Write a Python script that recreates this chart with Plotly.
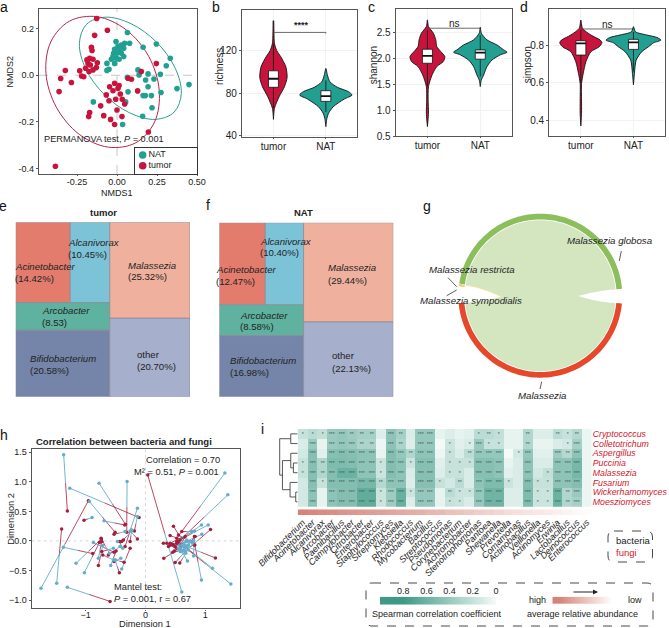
import numpy as np
import plotly.graph_objects as go

W, H = 669, 628
FONT = "Liberation Sans"
INK = "#222222"
FRAME = "#555555"
RED = "#C8143C"
TEAL = "#21A092"
H_BLUE = "#62AECB"
H_RED = "#A31F3D"

# ---------- panel a ----------
a_nat_x = [.065,-.006,.048,.079,.027,.006,-.015,.042,.017,0,-.021,.027,.042,-.025,-.004,-.035,.013,-.063,-.015,-.05,-.063,.163,.246,.333,.308,.271,.194,.131,.138,.179,.231,.065,.069,.194,.163,.177,.215,.275,.375,.45,.219,.16,.054,.035,-.148]
a_nat_y = [.183,.144,.137,.137,.13,.123,.111,.116,.111,.094,.094,.094,.08,.08,.073,.069,.069,.051,.051,.026,.021,.12,.134,.073,.041,.004,.006,.023,.001,-.02,-.016,-.009,-.071,-.049,-.087,-.087,-.087,-.074,-.057,-.04,-.139,-.176,-.114,-.211,-.114]
a_tum_x = [-.127,-.06,-.140,-.160,-.156,-.171,-.188,-.150,-.123,-.181,-.196,-.167,-.129,-.150,-.233,-.323,-.352,-.285,-.221,-.208,-.362,-.175,.246,.152,.090,-.015,-.046,.013,-.025,.021,-.067,-.050,-.008,.033,.129,.048,-.102,0,-.171,-.177,-.083,-.040,.031,-.015,.196,-.385,.069,.006]
a_tum_y = [.243,.193,.171,.12,.106,.073,.066,.069,.054,.051,.03,.044,.033,.023,.019,.02,-.014,-.031,-.003,-.006,-.07,.016,.05,.016,-.017,-.034,-.049,-.044,-.066,-.08,-.084,-.109,-.103,-.103,-.067,-.123,-.131,-.149,-.16,-.177,-.173,-.189,-.177,-.211,-.243,-.39,-.013,-.056]
a_nat_ell_x = [.402,.362,.247,.0875,-.072,-.191,-.235,-.195,-.08,.079,.239,.357,.402]
a_nat_ell_y = [-.077,.033,.142,.221,.249,.218,.137,.027,-.082,-.161,-.189,-.158,-.077]
a_tum_ell_x = [.118,.235,.264,.199,.057,-.125,-.297,-.414,-.444,-.379,-.236,-.054,.118]
a_tum_ell_y = [-.289,-.2,-.065,.08,.195,.251,.232,.143,.008,-.137,-.253,-.308,-.289]
a_legend = ["NAT", "tumor"]
a_x_ticks = [-.25, 0, .25, .5]
a_x_text = ["-0.25", "0.00", "0.25", "0.50"]
a_y_ticks = [.2, 0, -.2, -.4]
a_y_text = ["0.2", "0.0", "-0.2", "-0.4"]

# ---------- panels b, c, d: violin outlines (value, half width) and boxes ----------
groups = ["tumor", "NAT"]
b_tum_v = [148.4,136.4,126.9,120,114.3,104.9,94.8,86,76.5,65.5,55.1]
b_tum_w = [.006,.01,.019,.064,.14,.236,.261,.21,.108,.019,0]
b_nat_v = [103.3,97,90.7,85.4,81.3,78.1,74.3,67,60.8,56,48.2]
b_nat_w = [0,.03,.076,.22,.43,.5,.35,.14,.05,.02,0]
b_tum_box = [65.5,85.4,93.5,101,126.9]
b_nat_box = [62,72.1,77,82.2,92]
c_tum_v = [2.745,2.616,2.487,2.358,2.229,2.133,2.036,1.939,1.843,1.682,1.456,1.198,.941,.683]
c_tum_w = [0,.02,.114,.158,.177,.253,.33,.30,.177,.089,.02,.013,.02,0]
c_nat_v = [2.603,2.487,2.358,2.26,2.165,2.12,2.07,1.97,1.843,1.68,1.585,1.456]
c_nat_w = [0,.02,.127,.316,.443,.506,.38,.222,.127,.063,.02,0]
c_tum_box = [1.45,1.907,2.05,2.178,2.55]
c_nat_box = [1.65,1.985,2.113,2.165,2.45]
d_tum_v = [.932,.888,.853,.826,.812,.791,.765,.712,.65,.597,.509,.439,.372]
d_tum_w = [0,.032,.191,.369,.401,.35,.191,.096,.045,.013,.013,.013,0]
d_nat_v = [.897,.87,.853,.84,.826,.812,.791,.765,.72,.65,.589]
d_nat_w = [0,.038,.255,.446,.522,.382,.287,.159,.051,.019,0]
d_tum_box = [.6,.747,.809,.823,.88]
d_nat_box = [.66,.777,.814,.83,.87]

# ---------- panels e, f ----------
genera = ["Acinetobacter", "Alcanivorax", "Arcobacter", "Bifidobacterium", "Malassezia", "other"]
tree_colors = ["#E47C6E", "#7DC3D8", "#5EB29F", "#7485A9", "#EFB19D", "#A6AFCB"]
e_values = [14.42, 10.45, 8.53, 20.58, 25.32, 20.70]
f_values = [12.47, 10.40, 8.58, 16.98, 29.44, 22.13]

# ---------- panel g: sector angles in degrees ----------
g_names = ["Malassezia globosa", "Malassezia restricta", "Malassezia sympodialis", "Malassezia"]
g_start = [4.8, 171.7, 172.7, 185.3]
g_end = [171.5, 172.6, 173.2, 354.5]
g_colors = ["#8CBE5C", "#F0D860", "#E8A050", "#E5482A"]

# ---------- panel h: paired points ----------
h_blue_x = [-1.366,-1.265,-.775,-.307,-.134,-1.745,-.936,-1.483,-.892,-1.371,-1.304,-1.159,-1.02,-.87,-.691,-.786,-.713,-.507,-.58,-.502,-.396,-.535,-.424,-.602,-.535,-.34,-.229,-.134,-.256,-.468,-.412,-.379,-.229,
            .608,1.327,1.377,1.048,.936,.819,.942,.663,.663,.608,.58,.635,.663,.675,.691,1.427,1.12,.936,.702,.803,.608,.635,.691,.747,.719,.786,.803,.691,.775,.58,.663,.719,.552]
h_blue_y = [1.458,.893,.977,1.006,.554,-.802,.667,-.718,.395,-.107,-.785,-.379,-.537,-.028,.339,-.294,-.079,-.322,-.418,-.322,-.475,-.124,-.096,-.209,-.322,.158,.169,.412,.169,-.011,-.294,-.124,.186,
            -.864,1.147,.78,.271,.271,.169,.113,-.181,-.068,-.068,-.124,-.153,-.181,-.209,-.096,-.729,-.463,-.661,-.339,-.254,-.181,-.096,-.011,-.011,-.068,-.04,0,.017,.158,-.181,-.124,-.153,-.124]
h_red_x = [-1.304,-.106,-.334,-.312,-.34,-.953,-.507,-1.40,-1.026,-.881,-.591,-.736,-.769,-.524,-.345,-.73,-.786,-.435,-.49,-.357,-.256,-.73,-.619,-.741,-.713,-.524,-.396,-.184,-.134,-.368,-.524,-.435,-.256,
           .039,.524,.58,.524,.468,.412,.496,1.087,.468,.3,.307,.457,.496,.574,1.17,.608,.552,.825,.58,.819,.83,.357,.412,.451,.524,.552,.385,.485,.608,.412,.819,.524,.663]
h_red_y = [.508,.395,.282,.147,-.096,.678,.147,.203,.35,-.215,-1.023,.034,-.028,-.192,.27,-.011,-.418,-.537,-.169,-.362,-.124,-.181,-.237,.045,-.237,.113,-.011,.169,.034,.017,-.35,-.011,-.011,
           1.113,.045,.017,-.011,-.068,-.04,-.096,.192,.249,-.04,-.294,-.192,-.367,-.373,-.288,-.068,-.011,-.068,-.124,.073,.073,-.04,.09,-.056,-.124,.102,-.096,-.169,.158,-.068,-.068,-.04,.073]

# ---------- panel i ----------
bacteria = ["Bifidobacterium","Acinetobacter","Alcanivorax","Arcobacter","Paenibacillus","Campylobacter","Citrobacter","Enterobacter","Staphylococcus","Streptomyces","Klebsiella","Rhodococcus","Mycobacterium","Bacillus","Streptococcus","Pseudomonas","Corynebacterium","Achromobacter","Stenotrophomonas","Pantoea","Shewanella","Prevotella","Comamonas","Actinobacillus","Veillonella","Actinomyces","Erwinia","Lactobacillus","Deinococcus","Enterococcus"]
fungi = ["Cryptococcus","Colletotrichum","Aspergillus","Puccinia","Malassezia","Fusarium","Wickerhamomyces","Moesziomyces"]
heat_crypto = [.2,.25,.22,.4,.42,.38,.35,.35,.1,.45,.35,.12,.42,.42,.06,.1,.06,.08,.25,.25,.22,.06,.06,.3,.1,.1,.25,.2,.28,.04]
heat_collet = [.12,.4,.05,.4,.42,.4,.32,.32,.03,.45,.32,.1,.42,.42,0,.18,.08,.12,.4,.2,.2,.06,.06,.3,.05,.05,.12,.15,.35,.04]
heat_asperg = [.15,.48,.08,.48,.5,.48,.45,.45,.05,.5,.42,.3,.45,.45,.03,.2,.12,.25,.42,.42,.42,0,.15,.42,.08,.08,.38,.28,.45,.04]
heat_puccin = [.2,.48,.3,.52,.52,.5,.45,.45,.18,.5,.45,.18,.48,.48,.08,.2,.2,.2,.48,.48,.45,.05,.12,.45,.12,.12,.45,.45,.55,.04]
heat_malass = [.2,.48,.3,.5,.6,.6,.45,.45,.18,.5,.45,.12,.48,.48,.1,.2,.2,.12,.48,.48,.45,.08,.12,.45,.15,.22,.45,.45,.55,.04]
heat_fusari = [.15,.48,.2,.5,.5,.5,.55,.55,.28,.45,.45,.1,.48,.48,.2,.15,.25,.12,.45,.52,.52,.18,.12,.5,.2,.2,.45,.45,.5,.04]
heat_wicker = [.15,.45,.06,.45,.5,.5,.65,.65,.18,.38,.62,.18,.42,.42,.06,.25,.18,.18,.42,.58,.58,.1,.1,.52,.18,.18,.6,.3,.4,.04]
heat_moeszi = [.15,.45,.06,.45,.5,.5,.65,.65,.18,.38,.62,.1,.42,.42,.06,.2,.18,.12,.42,.58,.58,.1,.1,.52,.18,.18,.6,.3,.35,.04]
stars_crypto = "* * * *** *** ** ** ** . *** ** . *** *** . . . . * ** * . . ** . . ** * ** ."
stars_collet = ". *** . *** *** *** ** ** . *** ** . *** *** . * . * *** * * . . ** . . . * *** ."
stars_asperg = ". *** . *** *** *** *** *** . *** *** ** *** *** . * . ** *** *** *** . * *** . . *** ** *** ."
stars_puccin = "* *** ** *** *** *** *** *** * *** *** * *** *** . * * * *** *** *** . . *** . . *** *** *** ."
stars_malass = "* *** ** *** *** *** *** *** * *** *** . *** *** . * * . *** *** *** . . *** . * *** *** *** ."
stars_fusari = ". *** * *** *** *** *** *** ** *** *** . *** *** * . ** . *** *** *** * . *** * * *** *** *** ."
stars_wicker = ". *** . *** *** *** *** *** * *** *** * *** *** . ** * * *** *** *** . . *** * * *** ** *** ."
stars_moeszi = ". *** . *** *** *** *** *** * *** *** . *** *** . * * . *** *** *** . . *** * * *** ** *** ."
abundance = [1,.97,.94,.91,.88,.85,.82,.79,.76,.73,.7,.67,.64,.6,.56,.52,.48,.44,.4,.36,.32,.28,.25,.22,.19,.16,.13,.1,.06,.03]
legend_corr = [.8,.6,.4,.2,0]
legend_abund = [1,.75,.5,.25,0]
legend_corr_pos = [1,.8,.6,.4,.2,0]
# dendrogram branch heights, in column widths
dend_heights = [.71,.44,.71,.2,.78,1.56,1.84]

HEAT_SCALE = [[0, "#F4FAF8"], [1, "#3F9A85"]]
ABUND_SCALE = [[0, "#FFFFFF"], [1, "#D8837A"]]


def px(x):
    return x / W


def py(y):
    return 1 - y / H


fig = go.Figure()
annots = []
shapes = []
axis_n = [0]


def add_axes(x0, x1, y0, y1, xr, yr, xopt=None, yopt=None, frame=True):
    axis_n[0] += 1
    n = axis_n[0]
    sfx = "" if n == 1 else str(n)
    base = dict(showline=frame, mirror=frame, linecolor=FRAME, linewidth=1.2, showgrid=False, automargin=False,
                zeroline=False, ticks="", showticklabels=False, color=INK, fixedrange=True,
                tickfont=dict(family=FONT, size=9, color=INK))
    xa = dict(base, domain=[px(x0), px(x1)], range=xr, anchor="y" + sfx)
    ya = dict(base, domain=[py(y1), py(y0)], range=yr, anchor="x" + sfx)
    xa.update(xopt or {})
    ya.update(yopt or {})
    fig.update_layout(**{"xaxis" + sfx: xa, "yaxis" + sfx: ya})
    return "x" + sfx, "y" + sfx


def text(x, y, s, size=9.5, anchor="left", color=INK, angle=0, bold=False):
    if bold:
        s = "<b>" + s + "</b>"
    annots.append(dict(x=px(x), y=py(y), xref="paper", yref="paper", text=s, showarrow=False,
                       xanchor=anchor, yanchor="middle", textangle=angle, borderpad=0,
                       font=dict(family=FONT, size=size, color=color)))


def pline(x0, y0, x1, y1, color="#333333", width=0.8, dash=None):
    shapes.append(dict(type="line", xref="paper", yref="paper", x0=px(x0), y0=py(y0), x1=px(x1), y1=py(y1),
                       line=dict(color=color, width=width, dash=dash)))


def round_box(x0, y0, x1, y1, r):
    X0, X1, Y0, Y1 = px(x0), px(x1), py(y0), py(y1)
    rx, ry = r / W, r / H
    path = (f"M {X0+rx} {Y0} L {X1-rx} {Y0} Q {X1} {Y0} {X1} {Y0-ry} L {X1} {Y1+ry} Q {X1} {Y1} {X1-rx} {Y1} "
            f"L {X0+rx} {Y1} Q {X0} {Y1} {X0} {Y1+ry} L {X0} {Y0-ry} Q {X0} {Y0} {X0+rx} {Y0} Z")
    shapes.append(dict(type="path", xref="paper", yref="paper", path=path,
                       line=dict(color="#333333", width=0.9, dash="dash")))


# ---------- a ----------
xa, ya = add_axes(39, 197, 9, 174, [-.4875, .5], [-.423, .284],
                  dict(showticklabels=True, tickvals=a_x_ticks, ticktext=a_x_text, ticks="outside", ticklen=1, tickcolor=FRAME, ticklabelstandoff=-2),
                  dict(showticklabels=True, tickvals=a_y_ticks, ticktext=a_y_text, ticks="outside", ticklen=2, tickcolor=FRAME))
for r in [dict(x0=0, x1=0, y0=0, y1=1, xref=xa, yref=ya + " domain"), dict(x0=0, x1=1, y0=0, y1=0, xref=xa + " domain", yref=ya)]:
    shapes.append(dict(type="line", layer="below", line=dict(color="#C8C8C8", width=1, dash="dash"), **r))
fig.add_trace(go.Scatter(x=a_nat_ell_x, y=a_nat_ell_y, xaxis=xa, yaxis=ya, mode="lines",
                         line=dict(color="#2E9E90", width=1, shape="spline")))
fig.add_trace(go.Scatter(x=a_tum_ell_x, y=a_tum_ell_y, xaxis=xa, yaxis=ya, mode="lines",
                         line=dict(color="#B5264A", width=1, shape="spline")))
fig.add_trace(go.Scatter(x=a_nat_x, y=a_nat_y, xaxis=xa, yaxis=ya, mode="markers", marker=dict(color=TEAL, size=5.6)))
fig.add_trace(go.Scatter(x=a_tum_x, y=a_tum_y, xaxis=xa, yaxis=ya, mode="markers", marker=dict(color=RED, size=5.6)))
# legend inset
xl, yl = add_axes(134.7, 197, 148.3, 174, [-8, 54.3], [-.776, 1.626],
                  dict(linecolor="#333333"),
                  dict(type="linear", linecolor="#333333"))
fig.add_trace(go.Scatter(x=[0], y=[1], xaxis=xl, yaxis=yl, mode="markers+text", text=[a_legend[0]], textposition="middle right",
                         marker=dict(color=TEAL, size=7.5), textfont=dict(family=FONT, size=9, color=INK)))
fig.add_trace(go.Scatter(x=[0], y=[0], xaxis=xl, yaxis=yl, mode="markers+text", text=[a_legend[1]], textposition="middle right",
                         marker=dict(color=RED, size=7.5), textfont=dict(family=FONT, size=9, color=INK)))
text(117, 192.5, "NMDS1", 9, "center")
text(9.5, 72, "NMDS2", 9, "center", angle=-90)
text(43.3, 139.3, "PERMANOVA test, <i>P</i> = 0.001", 9.2)


# ---------- b, c, d ----------
def violin_panel(box, yr, yticks, ytext, series, title, title_pos):
    x0, x1, y0, y1 = box
    xa, ya = add_axes(x0, x1, y0, y1, [-.6, 1.6], yr,
                      dict(showticklabels=True, tickvals=[0, 1], ticktext=groups, ticks="outside", ticklen=1, tickcolor=FRAME,
                           ticklabelstandoff=-1,
                           tickfont=dict(family=FONT, size=10, color=INK), showgrid=True, gridcolor="#F2F2F2", gridwidth=1),
                      dict(showticklabels=True, tickvals=yticks, ticktext=ytext, ticks="outside", ticklen=2, tickcolor=FRAME,
                           tickfont=dict(family=FONT, size=10, color=INK), showgrid=True, gridcolor="#F2F2F2", gridwidth=1))
    for c, (vals, wids, bx, col) in enumerate(series):
        vx = [c + w for w in wids] + [c - w for w in wids[::-1]]
        vy = list(vals) + list(vals[::-1])
        fig.add_trace(go.Scatter(x=vx, y=vy, xaxis=xa, yaxis=ya, mode="lines", fill="toself", fillcolor=col,
                                 line=dict(color="#111111", width=0.9, shape="spline", smoothing=0.7)))
        fig.add_trace(go.Scatter(x=[c, c], y=[bx[0], bx[4]], xaxis=xa, yaxis=ya, mode="lines",
                                 line=dict(color="#111111", width=0.8)))
        fig.add_trace(go.Scatter(x=[c - .095, c + .095, c + .095, c - .095, c - .095], y=[bx[1], bx[1], bx[3], bx[3], bx[1]],
                                 xaxis=xa, yaxis=ya, mode="lines", fill="toself", fillcolor="white",
                                 line=dict(color="#111111", width=0.8)))
        fig.add_trace(go.Scatter(x=[c - .095, c + .095], y=[bx[2], bx[2]], xaxis=xa, yaxis=ya, mode="lines",
                                 line=dict(color="#111111", width=1.8)))
    text(title_pos[0], title_pos[1], title, 10, "center", angle=-90)
    return xa, ya


xb, yb = violin_panel((242, 357.3, 10, 136.7), [38.7, 158.5], [40, 80, 120], ["40", "80", "120"],
                      [(b_tum_v, b_tum_w, b_tum_box, RED), (b_nat_v, b_nat_w, b_nat_box, TEAL)], "richness", (219.3, 66.7))
fig.add_trace(go.Scatter(x=[0, 0, 1, 1], y=[136.2, 137.3, 137.3, 136.2], xaxis=xb, yaxis=yb, mode="lines", line=dict(color="#444444", width=0.8)))
xc, yc = violin_panel((395.7, 512, 9.3, 136), [.5, 2.95], [.5, 1, 1.5, 2, 2.5], ["0.5", "1.0", "1.5", "2.0", "2.5"],
                      [(c_tum_v, c_tum_w, c_tum_box, RED), (c_nat_v, c_nat_w, c_nat_box, TEAL)], "shannon", (373.3, 65))
fig.add_trace(go.Scatter(x=[0, 1], y=[2.584, 2.584], xaxis=xc, yaxis=yc, mode="lines", line=dict(color="#444444", width=0.8)))
xd, yd = violin_panel((549.3, 665, 9.3, 136), [.319, .989], [.4, .6, .8], ["0.4", "0.6", "0.8"],
                      [(d_tum_v, d_tum_w, d_tum_box, RED), (d_nat_v, d_nat_w, d_nat_box, TEAL)], "simpson", (527.3, 65))
fig.add_trace(go.Scatter(x=[0, 1], y=[.885, .885], xaxis=xd, yaxis=yd, mode="lines", line=dict(color="#444444", width=0.8)))
text(301.7, 25.5, "<b>****</b>", 9, "center")
text(454.3, 24, "ns", 10, "center")
text(607.7, 24.7, "ns", 10, "center")


# ---------- e, f ----------
def tree_panel(x0, x1, y0, y1, values):
    xa, ya = add_axes(x0, x1, y0, y1, [0, 100], [0, 100], frame=False)
    ac, al, ar, bi, ma, ot = values
    left = ac + al + ar + bi
    cells_x = [0, ac / (ac + al) * left, 0, 0, left, left]
    cells_w = [ac / (ac + al) * left, al / (ac + al) * left, left, left, ma + ot, ma + ot]
    h_top = (ac + al) / left * 100
    h_arc = ar / left * 100
    h_bif = bi / left * 100
    h_mal = ma / (ma + ot) * 100
    h_oth = ot / (ma + ot) * 100
    cells_b = [100 - h_top, 100 - h_top, h_bif, 0, h_oth, 0]
    cells_h = [h_top, h_top, h_arc, h_bif, h_mal, h_oth]
    fig.add_trace(go.Bar(x=[a + w / 2 for a, w in zip(cells_x, cells_w)], y=cells_h, base=cells_b, width=cells_w,
                         xaxis=xa, yaxis=ya, marker=dict(color=tree_colors, line=dict(color="#8C8C98", width=0.8))))


tree_panel(15.7, 190, 222.3, 396.7, e_values)
tree_panel(219.3, 393.3, 222.7, 396.7, f_values)
LS = 9.6
text(104, 212.7, "tumor", 9.5, "center", bold=True)
text(303, 212.5, "NAT", 9.5, "center", bold=True)
for x, y1, y2, name, val in [
    (14, 266, 278, genera[0], "(14.42%)"), (67.3, 242.7, 254, genera[1], "(10.45%)"),
    (127.3, 265.3, 276.7, genera[4], "(25.32%)"), (40.7, 310.3, 322, genera[2], "(8.53)"),
    (29, 358, 370, genera[3], "(20.58%)"), (135.7, 354, 366, genera[5], "(20.70%)"),
    (214.7, 269, 281, genera[0], "(12.47%)"), (259.3, 241.7, 253, genera[1], "(10.40%)"),
    (327.3, 267.7, 280, genera[4], "(29.44%)"), (238.7, 315, 326.7, genera[2], "(8.58%)"),
    (229.3, 360, 372, genera[3], "(16.98%)"), (331, 355.7, 368, genera[5], "(22.13%)")]:
    text(x, y1, name if name == "other" else f"<i>{name}</i>", LS)
    text(x, y2, val, LS)

# ---------- g ----------
xg, yg = add_axes(450, 630, 205, 385, [-90.3, 89.7], [-89.3, 90.7], frame=False)


def arc(a0, a1, r, n=90):
    t = np.radians(np.linspace(a0, a1, n))
    return r * np.cos(t), r * np.sin(t)


def bez(p0, c, p1, n=30):
    t = np.linspace(0, 1, n)
    return ((1 - t) ** 2 * p0[0] + 2 * (1 - t) * t * c[0] + t ** 2 * p1[0],
            (1 - t) ** 2 * p0[1] + 2 * (1 - t) * t * c[1] + t ** 2 * p1[1])


R_OUT, R_IN, R_CH = 82, 76.3, 75.5
gx, gy = arc(g_start[0], g_end[0], R_CH)
p_g_l = (gx[-1], gy[-1])
p_g_r = (gx[0], gy[0])
rx_, ry_ = arc(g_start[3], g_end[3], R_CH)
p_r_l = (rx_[0], ry_[0])
p_r_r = (rx_[-1], ry_[-1])
tip_l, tip_r = (-38.7, -1), (38, -.3)
s1 = bez(p_g_l, (-57, 7.3), tip_l)
s2 = bez(tip_l, (-57, -6), p_r_l)
s3 = bez(p_r_r, (58, -6.7), tip_r)
s4 = bez(tip_r, (58, 5.3), p_g_r)
fig.add_trace(go.Scatter(x=np.concatenate([gx, s1[0], s2[0], rx_, s3[0], s4[0]]),
                         y=np.concatenate([gy, s1[1], s2[1], ry_, s3[1], s4[1]]),
                         xaxis=xg, yaxis=yg, mode="none", fill="toself", fillcolor="#D3E6C0"))
for a0, a1, col in zip(g_start, g_end, g_colors):
    ox, oy = arc(a0, a1, R_OUT)
    ix, iy = arc(a1, a0, R_IN)
    fig.add_trace(go.Scatter(x=np.concatenate([ox, ix]), y=np.concatenate([oy, iy]), xaxis=xg, yaxis=yg,
                             mode="none", fill="toself", fillcolor=col))
yx, yy = bez((R_CH * np.cos(np.radians(172)), R_CH * np.sin(np.radians(172))), (-57, 8.5), tip_l)
fig.add_trace(go.Scatter(x=yx, y=yy, xaxis=xg, yaxis=yg, mode="lines", line=dict(color="#F3E49A", width=1)))
text(565.7, 241, f"<i>{g_names[0]}</i>", 9.7)
text(428, 269, f"<i>{g_names[1]}</i>", 9.7)
text(419.3, 300.7, f"<i>{g_names[2]}</i>", 9.7)
text(516.7, 395.7, f"<i>{g_names[3]}</i>", 9.7)
pline(621.3, 251, 619.3, 261)
pline(448, 277.7, 456.7, 286.7)
pline(446.7, 295.7, 456.7, 290)
pline(541.7, 381.7, 540, 389)

# ---------- h ----------
xh, yh = add_axes(31.7, 240, 448.7, 608.3, [-1.9, 1.58], [-1.14, 1.56],
                  dict(showticklabels=True, tickvals=[-1, 0, 1], ticktext=["−1", "0", "1"], ticks="outside", ticklen=1, tickcolor=FRAME, linewidth=1.4, ticklabelstandoff=-3),
                  dict(showticklabels=True, tickvals=[-1, -.5, 0, .5, 1, 1.5], ticktext=["−1.0", "−0.5", "0.0", "0.5", "1.0", "1.5"], ticks="outside", ticklen=2, tickcolor=FRAME, linewidth=1.4))
for r in [dict(x0=0, x1=0, y0=0, y1=1, xref=xh, yref=yh + " domain"), dict(x0=0, x1=1, y0=0, y1=0, xref=xh + " domain", yref=yh)]:
    shapes.append(dict(type="line", layer="below", line=dict(color="#D8D8D8", width=1, dash="dot"), **r))
bx_seg, by_seg, rx_seg, ry_seg = [], [], [], []
for bx, by, rx, ry in zip(h_blue_x, h_blue_y, h_red_x, h_red_y):
    mx, my = (bx + rx) / 2, (by + ry) / 2
    bx_seg += [bx, mx, None]
    by_seg += [by, my, None]
    rx_seg += [rx, mx, None]
    ry_seg += [ry, my, None]
fig.add_trace(go.Scatter(x=rx_seg, y=ry_seg, xaxis=xh, yaxis=yh, mode="lines", line=dict(color=H_RED, width=0.8)))
fig.add_trace(go.Scatter(x=bx_seg, y=by_seg, xaxis=xh, yaxis=yh, mode="lines", line=dict(color=H_BLUE, width=0.9)))
fig.add_trace(go.Scatter(x=h_red_x, y=h_red_y, xaxis=xh, yaxis=yh, mode="markers", marker=dict(color=H_RED, size=3.5)))
fig.add_trace(go.Scatter(x=h_blue_x, y=h_blue_y, xaxis=xh, yaxis=yh, mode="markers", marker=dict(color=H_BLUE, size=3.5)))
text(124, 441, "Correlation between bacteria and fungi", 9.5, "center", bold=True)
text(145, 460.3, "Correlation = 0.70", 9.3)
text(133.3, 471.7, "M² = 0.51, <i>P</i> = 0.001", 9.3)
text(113.3, 587.3, "Mantel test:", 9.3)
text(113.3, 599.3, "<i>P</i> = 0.001, r = 0.67", 9.3)
text(145, 623.5, "Dimension 1", 9.3, "center")
text(10.7, 519, "Dimension 2", 9.3, "center", angle=-90)

# ---------- i ----------
heat_rows = [heat_crypto, heat_collet, heat_asperg, heat_puccin, heat_malass, heat_fusari, heat_wicker, heat_moeszi]
star_rows = [[("" if s == "." else s) for s in r.split()] for r in
             [stars_crypto, stars_collet, stars_asperg, stars_puccin, stars_malass, stars_fusari, stars_wicker, stars_moeszi]]
xi, yi = add_axes(297.7, 591.7, 429, 506.7, [-.5, 29.5], [7.5, -.5],
                  dict(showticklabels=True, tickmode="array", tickvals=list(range(30)), ticktext=bacteria, tickangle=-45, ticks="outside",
                       ticklen=6, tickcolor="rgba(0,0,0,0)", tickfont=dict(family=FONT, size=9, style="italic", color=INK)),
                  dict(showticklabels=True, side="right", tickmode="array", tickvals=list(range(8)), ticktext=fungi, ticks="",
                       tickfont=dict(family=FONT, size=8.8, style="italic", color="#D0202E")),
                  frame=False)
fig.add_trace(go.Heatmap(z=heat_rows, xaxis=xi, yaxis=yi, zmin=0, zmax=.8, colorscale=HEAT_SCALE, showscale=False,
                         text=star_rows, texttemplate="%{text}", textfont=dict(size=5, color="#3C5F58", family=FONT)))
# dendrogram on its own axes: x = branch height in column widths
xdn, ydn = add_axes(275, 297.7, 429, 506.7, [2.32, 0], [7.5, -.5], frame=False)
dh = dend_heights
m_a = .5
m_b = 3.5
m_c = (2 + m_b) / 2
m_d = 6.5
m_e = (5 + m_d) / 2
m_f = (m_c + m_e) / 2
merges = [(0, 0, 1, 0, dh[0]), (3, 0, 4, 0, dh[1]), (2, 0, m_b, dh[1], dh[2]), (6, 0, 7, 0, dh[3]), (5, 0, m_d, dh[3], dh[4]),
          (m_c, dh[2], m_e, dh[4], dh[5]), (m_a, dh[0], m_f, dh[5], dh[6])]
dx, dy = [], []
for y1, h1, y2, h2, h_ in merges:
    dx += [h1, h_, h_, h2, None]
    dy += [y1, y1, y2, y2, None]
fig.add_trace(go.Scatter(x=dx, y=dy, xaxis=xdn, yaxis=ydn, mode="lines", line=dict(color="#444444", width=0.9)))
# abundance strip
xs, ys = add_axes(297.7, 591.7, 509.3, 515, [-.5, 29.5], [-.5, .5], frame=False)
fig.add_trace(go.Heatmap(z=[abundance], xaxis=xs, yaxis=ys, zmin=0, zmax=1, colorscale=ABUND_SCALE, showscale=False))
# correlation legend
xlc, ylc = add_axes(380, 496, 596.7, 604.7, [1, 0], [-.5, .5],
                    dict(showticklabels=True, side="top", tickmode="array", tickvals=legend_corr, ticktext=["0.8", "0.6", "0.4", "0.2", "0"]),
                    frame=False)
fig.add_trace(go.Heatmap(z=[[.8] + legend_corr], x=legend_corr_pos, xaxis=xlc, yaxis=ylc, zmin=0, zmax=.8, colorscale=HEAT_SCALE,
                         showscale=False, zsmooth="best"))
# abundance legend
xla, yla = add_axes(552.3, 618.3, 596.7, 604, [-.5, 4.5], [-.5, .5], frame=False)
fig.add_trace(go.Heatmap(z=[legend_abund], xaxis=xla, yaxis=yla, zmin=0, zmax=1, colorscale=ABUND_SCALE, showscale=False, zsmooth="best"))
text(371, 614, "Spearman correlation coefficient", 9)
text(528.3, 600, "high", 9)
text(626.7, 600, "low", 9)
text(525.7, 614, "average relative abundance", 9)
text(614.7, 540, "bacteria", 9.5)
text(614.7, 552, "fungi", 9.5, color="#D0202E")
annots.append(dict(x=px(598), y=py(592), xref="paper", yref="paper", text="", showarrow=True, ax=-26, ay=0,
                   arrowhead=2, arrowsize=1, arrowwidth=1, arrowcolor="#222222"))
round_box(608, 531, 652.5, 562, 6)
round_box(366, 583, 653, 626, 6)

# ---------- panel letters ----------
for s, x, y in [("a", 4, 7), ("b", 216, 6.7), ("c", 371, 6.7), ("d", 524, 6.7), ("e", 3.3, 206), ("f", 208, 205),
                ("g", 427.3, 206), ("h", 3.5, 435), ("i", 262.7, 428.7)]:
    text(x, y, s, 14, "center", color="#111111")

fig.update_layout(width=W, height=H, autosize=False, margin=dict(l=0, r=0, t=0, b=0, pad=0), showlegend=False,
                  plot_bgcolor="white", paper_bgcolor="white", annotations=annots, shapes=shapes,
                  font=dict(family=FONT, color=INK))
fig.write_html("out.html", config={"displayModeBar": False},
               post_script="document.body.style.margin='0';document.documentElement.style.overflow='hidden';")
